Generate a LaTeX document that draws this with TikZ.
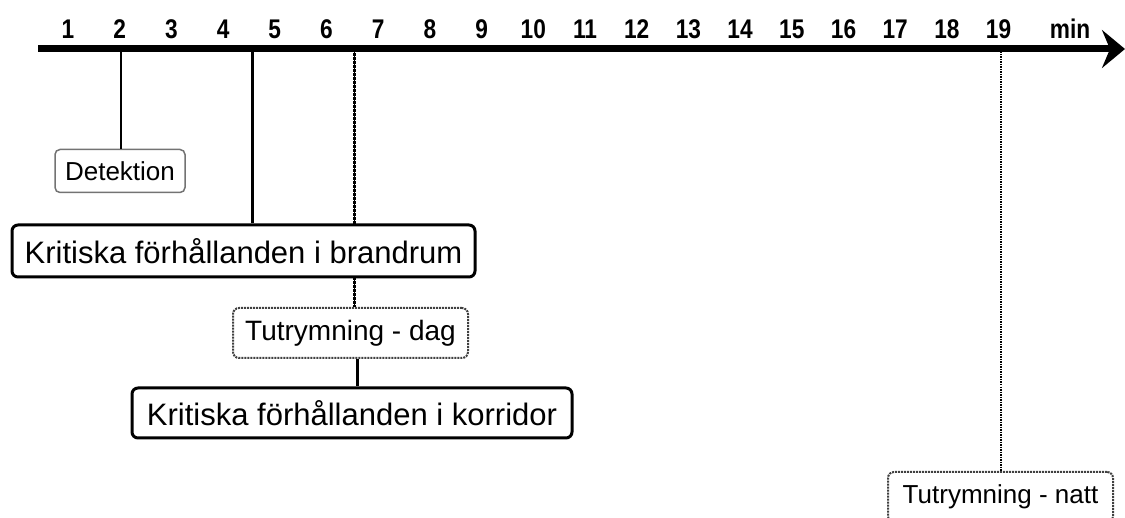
\documentclass[tikz,border=0pt]{standalone}
\usepackage{fontspec}
\setmainfont{Liberation Sans}
\newfontfamily\narrowsans[FakeStretch=0.84]{Liberation Sans}
\usetikzlibrary{arrows.meta}
\newcommand\numfont{\narrowsans\fontsize{27}{30}\selectfont\bfseries}
\newcommand\smalltxt{\fontsize{26}{30}\selectfont}
\newcommand\bigtxt{\fontsize{31}{36}\selectfont}
\begin{document}
\begin{tikzpicture}[x=1pt, y=-1pt,
		tick/.style={font=\numfont, inner sep=0pt, anchor=base},
		thinbox/.style={draw=black!55, line width=1.5pt, rounded corners=5pt, fill=white, inner sep=0pt, font=\smalltxt},
		boldbox/.style={draw=black, line width=3pt, rounded corners=6pt, fill=white, inner sep=0pt, font=\bigtxt},
		dotbox/.style={draw=black!75, line width=2pt, densely dotted, rounded corners=6pt, fill=white, inner sep=0pt, font=\smalltxt},
		dayline/.style={line width=3pt, densely dotted, preaction={draw, solid, line width=1.5pt, xshift=1.5pt}}]
				\useasboundingbox (0,0) rectangle (1125,518);
				\clip (0,0) rectangle (1125,518);
				% time axis
				\coordinate (start) at (38,49);
				\coordinate (end) at (1125,49);
				\draw[line width=7pt, -{Stealth[length=23pt,width=38pt,inset=8pt]}] (start) -- (end);
				\foreach \n in {1,...,19}
					\node[tick] (t\n) at ({68+51.7*(\n-1)},39) {\n};
				\node[tick] (unit) at (1070,39) {min};
				% events
				\node[thinbox, minimum width=130pt, minimum height=43pt] (det) at (120,171) {Detektion};
				\node[dotbox, minimum width=235pt, minimum height=50pt, font=\fontsize{28}{32}\selectfont] (dag) at (350.5,333) {Tutrymning - dag};
				\node[dotbox, minimum width=225pt, minimum height=50pt] (natt) at (1000.5,497) {Tutrymning - natt};
				\coordinate (a2) at (121,49);
				\coordinate (a4) at (252,49);
				\coordinate (a6) at (354.5,49);
				\coordinate (a19) at (1001,49);
				\draw[line width=1.5pt] (a2) -- (a2 |- det.north);
				\draw[dayline] (a6) -- (a6 |- dag.north);
				\draw[line width=1.5pt, densely dotted] (a19) -- (a19 |- natt.north);
				\node[boldbox, minimum width=463pt, minimum height=52pt] (brand) at (243.5,251) {Kritiska förhållanden i brandrum};
				\draw[line width=3pt] (a4) -- (a4 |- brand.north);
				\node[boldbox, minimum width=440pt, minimum height=50pt] (korr) at (352,413) {Kritiska förhållanden i korridor};
				\draw[line width=3pt] (dag.south -| 357,0) -- (korr.north -| 357,0);
\end{tikzpicture}
\end{document}
